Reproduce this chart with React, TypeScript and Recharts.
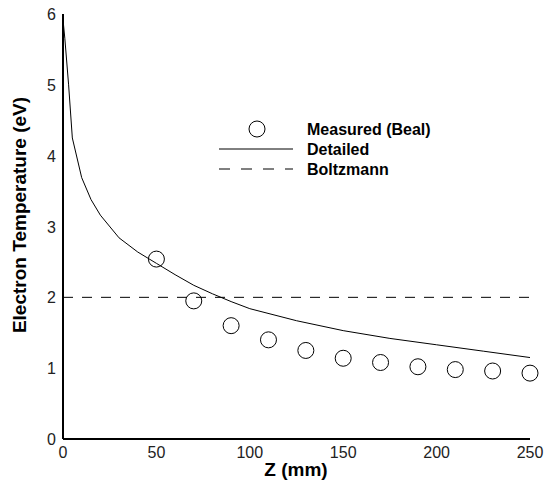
import React from 'react';
import { ComposedChart, Line, Scatter, XAxis, YAxis } from 'recharts';

const FONT = '"Liberation Sans", Arial, sans-serif';

// Beal measurements
const measured = [
  { z: 50, t: 2.54 },
  { z: 70, t: 1.95 },
  { z: 90, t: 1.6 },
  { z: 110, t: 1.4 },
  { z: 130, t: 1.25 },
  { z: 150, t: 1.14 },
  { z: 170, t: 1.08 },
  { z: 190, t: 1.02 },
  { z: 210, t: 0.98 },
  { z: 230, t: 0.96 },
  { z: 250, t: 0.93 },
];

const detailed = [
  { z: 0, t: 5.92 },
  { z: 1, t: 5.65 },
  { z: 3, t: 5.0 },
  { z: 5, t: 4.25 },
  { z: 10, t: 3.69 },
  { z: 15, t: 3.38 },
  { z: 20, t: 3.16 },
  { z: 30, t: 2.84 },
  { z: 40, t: 2.64 },
  { z: 50, t: 2.48 },
  { z: 60, t: 2.32 },
  { z: 70, t: 2.17 },
  { z: 80, t: 2.05 },
  { z: 90, t: 1.94 },
  { z: 100, t: 1.84 },
  { z: 125, t: 1.67 },
  { z: 150, t: 1.53 },
  { z: 175, t: 1.42 },
  { z: 200, t: 1.33 },
  { z: 225, t: 1.24 },
  { z: 250, t: 1.15 },
];

const boltzmann = [
  { z: 0, t: 2 },
  { z: 250, t: 2 },
];

const xMajor = [0, 50, 100, 150, 200, 250];
const xMinor = [0, 10, 20, 30, 40, 50, 60, 70, 80, 90, 100, 110, 120, 130, 140, 150, 160, 170, 180, 190, 200, 210, 220, 230, 240, 250];
const yMajor = [0, 1, 2, 3, 4, 5, 6];
const yMinor = Array.from({ length: 31 }, (_, i) => i / 5);

const legendLabels = ['Measured (Beal)', 'Detailed', 'Boltzmann'];

function XLabel({ x, y, payload }: any) {
  return (
    <text x={x} y={y + 19} textAnchor="middle" fontSize={16} fontFamily={FONT} fill="#222">
      {payload.value}
    </text>
  );
}

function YLabel({ x, y, payload }: any) {
  return (
    <text x={x - 7} y={y + 6} textAnchor="end" fontSize={16} fontFamily={FONT} fill="#222">
      {payload.value}
    </text>
  );
}

// titles + legend drawn on top of the chart
function Overlay() {
  const bold = { fontSize: 16, fontWeight: 700, fontFamily: FONT, fill: '#000' };
  return (
    <svg width={548} height={487} style={{ position: 'absolute', left: 0, top: 0, pointerEvents: 'none' }}>
      <text x={296} y={476} textAnchor="middle" fontSize={19} fontWeight={700} fontFamily={FONT}>
        Z (mm)
      </text>
      <text
        x={26}
        y={215}
        transform="rotate(-90 26 215)"
        textAnchor="middle"
        fontSize={19}
        fontWeight={700}
        fontFamily={FONT}
      >
        Electron Temperature (eV)
      </text>
      <g transform="translate(210,115)">
        <circle cx={47} cy={14} r={8} fill="none" stroke="#000" strokeWidth={1} />
        <line x1={9} y1={34} x2={83} y2={34} stroke="#000" strokeWidth={1} />
        <line x1={9} y1={54} x2={83} y2={54} stroke="#000" strokeWidth={1} strokeDasharray="11 11" />
        {legendLabels.map((s, i) => (
          <text key={s} x={97} y={20 + i * 20} {...bold}>
            {s}
          </text>
        ))}
      </g>
    </svg>
  );
}

export default function App() {
  return (
    <div style={{ position: 'absolute', left: 0, top: 0, width: 548, height: 487, background: '#fff' }}>
      <ComposedChart width={548} height={487} margin={{ top: 14, right: 18, bottom: 0, left: 0 }}>
        {/* inward tick marks: mirrored axes with no size of their own */}
        <XAxis
          xAxisId="xmin"
          type="number"
          dataKey="z"
          domain={[0, 250]}
          ticks={xMinor}
          interval={0}
          mirror
          height={0}
          tickSize={6}
          tick={false}
          axisLine={false}
          tickLine={{ stroke: '#000', strokeWidth: 1 }}
        />
        <XAxis
          xAxisId="xmaj"
          type="number"
          dataKey="z"
          domain={[0, 250]}
          ticks={xMajor}
          interval={0}
          mirror
          height={0}
          tickSize={11}
          tick={false}
          axisLine={false}
          tickLine={{ stroke: '#000', strokeWidth: 2 }}
        />
        <YAxis
          yAxisId="ymin"
          type="number"
          dataKey="t"
          domain={[0, 6]}
          ticks={yMinor}
          interval={0}
          mirror
          width={0}
          tickSize={6}
          tick={false}
          axisLine={false}
          tickLine={{ stroke: '#000', strokeWidth: 1 }}
        />
        <YAxis
          yAxisId="ymaj"
          type="number"
          dataKey="t"
          domain={[0, 6]}
          ticks={yMajor}
          interval={0}
          mirror
          width={0}
          tickSize={10}
          tick={false}
          axisLine={false}
          tickLine={{ stroke: '#000', strokeWidth: 2 }}
        />
        <XAxis
          type="number"
          dataKey="z"
          domain={[0, 250]}
          ticks={xMajor}
          interval={0}
          height={48}
          tickSize={0}
          tickMargin={0}
          tickLine={false}
          axisLine={{ stroke: '#000', strokeWidth: 2 }}
          tick={(p: any) => <XLabel {...p} />}
        />
        <YAxis
          type="number"
          dataKey="t"
          domain={[0, 6]}
          ticks={yMajor}
          interval={0}
          width={63}
          tickSize={0}
          tickMargin={0}
          tickLine={false}
          axisLine={{ stroke: '#000', strokeWidth: 2 }}
          tick={(p: any) => <YLabel {...p} />}
        />
        <Line
          data={boltzmann}
          dataKey="t"
          type="linear"
          stroke="#000"
          strokeWidth={1}
          strokeDasharray="10 9"
          dot={false}
          activeDot={false}
          isAnimationActive={false}
        />
        <Line
          data={detailed}
          dataKey="t"
          type="linear"
          stroke="#000"
          strokeWidth={1}
          dot={false}
          activeDot={false}
          isAnimationActive={false}
        />
        <Scatter
          data={measured}
          dataKey="t"
          isAnimationActive={false}
          shape={(p: any) => <circle cx={p.cx} cy={p.cy} r={8} fill="none" stroke="#000" strokeWidth={1} />}
        />
      </ComposedChart>
      <Overlay />
    </div>
  );
}
